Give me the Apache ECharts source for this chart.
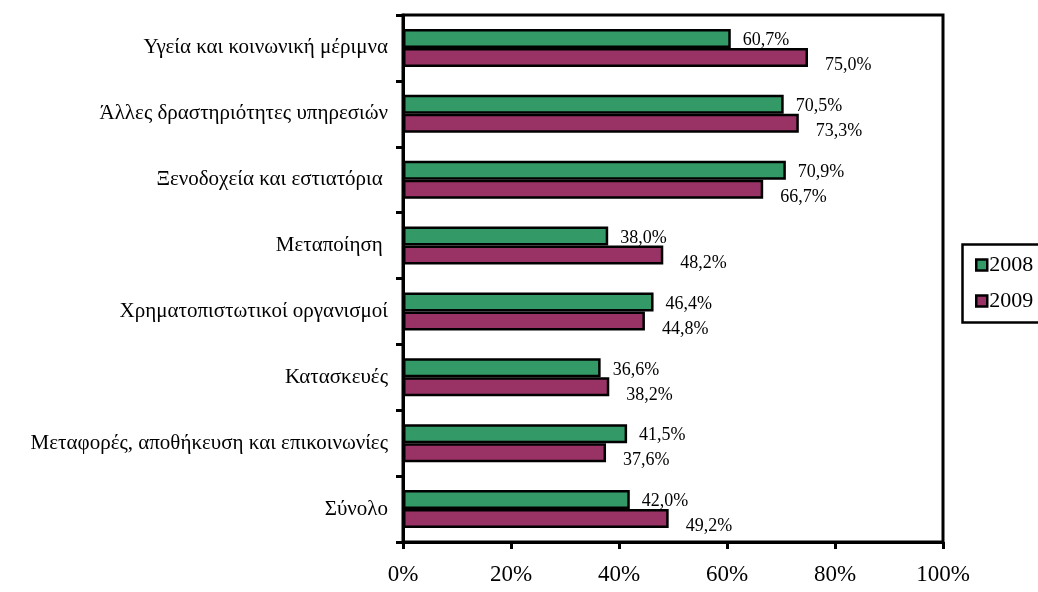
<!DOCTYPE html>
<html>
<head>
<meta charset="utf-8">
<script src="https://cdn.jsdelivr.net/npm/echarts@6/dist/echarts.min.js"></script>
<style>html,body{margin:0;padding:0;background:#fff}#c{width:1038px;height:592px}</style>
</head>
<body>
<div id="c"></div>
<script>
const categories = [
  'Υγεία και κοινωνική μέριμνα',
  'Άλλες δραστηριότητες υπηρεσιών',
  'Ξενοδοχεία και εστιατόρια ',
  'Μεταποίηση ',
  'Χρηματοπιστωτικοί οργανισμοί',
  'Κατασκευές',
  'Μεταφορές, αποθήκευση και επικοινωνίες',
  'Σύνολο'
];
const values2008 = [60.7, 70.5, 70.9, 38.0, 46.4, 36.6, 41.5, 42.0];
const values2009 = [75.0, 73.3, 66.7, 48.2, 44.8, 38.2, 37.6, 49.2];
const seriesNames = ['2008', '2009'];
const xTicks = [0, 20, 40, 60, 80, 100];

const font = 'Liberation Serif, Times New Roman, serif';
const fmt = v => v.toFixed(1).replace('.', ',') + '%';

const chart = echarts.init(document.getElementById('c'));
chart.setOption({
  backgroundColor: '#fff',
  animation: false,
  grid: { left: 403, right: 95, top: 15, bottom: 50, show: true, borderColor: '#000', borderWidth: 3, containLabel: false },
  legend: {
    orient: 'vertical', left: 970, top: 249,
    itemWidth: 11, itemHeight: 11, itemGap: 14,
    data: seriesNames,
    textStyle: { fontFamily: font, fontSize: 22, color: '#000', padding: [0, 0, 0, -3] },
    itemStyle: { borderColor: '#000', borderWidth: 2.5 },
    icon: 'rect'
  },
  xAxis: {
    type: 'value', min: xTicks[0], max: xTicks[xTicks.length - 1], interval: 20,
    axisLine: { show: true, lineStyle: { color: '#000', width: 3 } },
    axisTick: { show: true, length: 7, lineStyle: { color: '#000', width: 3 } },
    splitLine: { show: false },
    axisLabel: { formatter: v => v + '%', fontFamily: font, fontSize: 23, color: '#000', margin: 21 }
  },
  yAxis: {
    type: 'category', inverse: true, data: categories,
    axisLine: { show: true, lineStyle: { color: '#000', width: 3 } },
    axisTick: { show: true, length: 7, lineStyle: { color: '#000', width: 3 } },
    axisLabel: { fontFamily: font, fontSize: 21, color: '#000', margin: 15 }
  },
  series: [
    {
      name: seriesNames[0], type: 'bar', data: values2008,
      barWidth: 19, barGap: '0%',
      itemStyle: { color: '#339966', borderColor: '#000', borderWidth: 2.5 },
      label: { show: true, position: 'right', distance: 5, offset: [7, 2], formatter: p => fmt(p.value), fontFamily: font, fontSize: 18, color: '#000' }
    },
    {
      name: seriesNames[1], type: 'bar', data: values2009,
      barWidth: 19, barGap: '0%',
      itemStyle: { color: '#993366', borderColor: '#000', borderWidth: 2.5 },
      label: { show: true, position: 'right', distance: 5, offset: [12, 8], formatter: p => fmt(p.value), fontFamily: font, fontSize: 18, color: '#000' }
    }
  ],
  graphic: [
    { type: 'rect', left: 960, top: 242, shape: { x: 0, y: 0, width: 100, height: 78 }, style: { fill: 'none', stroke: '#000', lineWidth: 2.5 }, silent: true, z: 10 }
  ]
});
</script>
</body>
</html>
